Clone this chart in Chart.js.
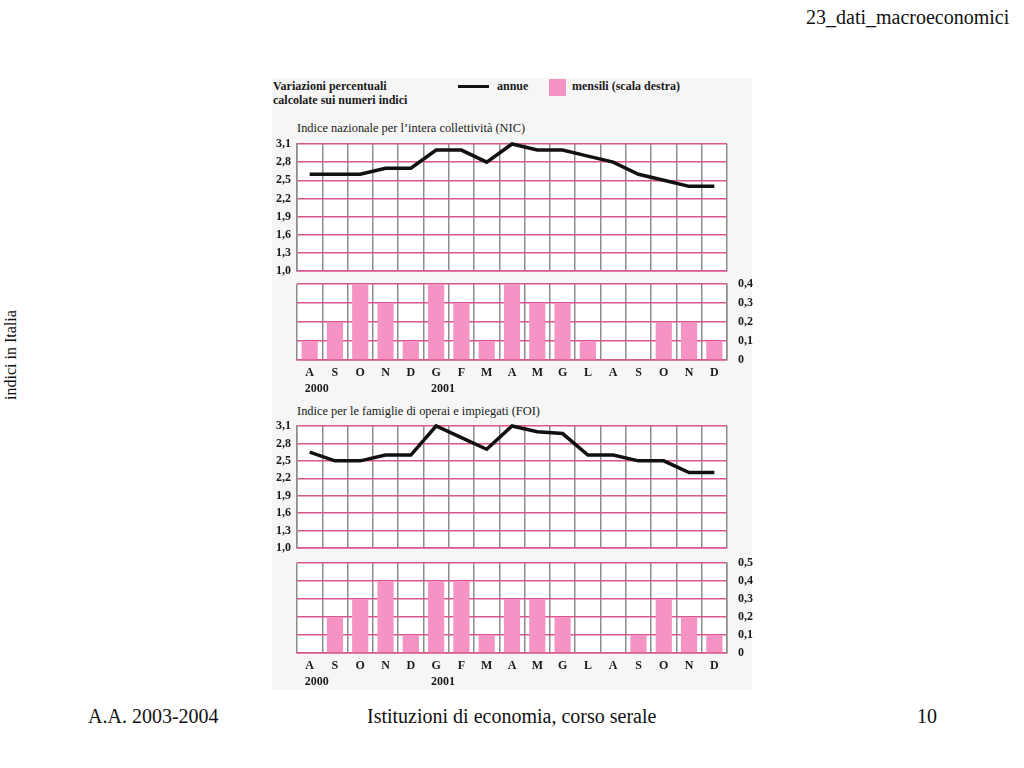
<!DOCTYPE html>
<html>
<head>
<meta charset="utf-8">
<script src="https://cdn.jsdelivr.net/npm/chart.js@4.4.1/dist/chart.umd.min.js"></script>
<style>
  body { margin: 0; background: #fff; width: 1024px; height: 768px; position: relative; overflow: hidden; font-family: "Liberation Serif", serif; color: #111; }
  .abs { position: absolute; white-space: nowrap; }
  #fig { position: absolute; left: 272px; top: 78px; width: 480px; height: 612px; background: #f6f6f6; }
  canvas { position: absolute; }
  .small { font-size: 12px; color: #1a1a1a; }
  .title { font-size: 12.4px; color: #1a1a1a; }
  .bold { font-weight: bold; }
</style>
</head>
<body>
<div class="abs" style="left:806px; top:6px; font-size:20px;">23_dati_macroeconomici</div>
<div class="abs" style="left:-37px; top:346px; font-size:16px; transform: rotate(-90deg); transform-origin: center; width:95px; text-align:center;">indici in Italia</div>
<div class="abs" style="left:88px; top:705px; font-size:20px;">A.A. 2003-2004</div>
<div class="abs" style="left:367px; top:705px; font-size:20px;">Istituzioni di economia, corso serale</div>
<div class="abs" style="left:917px; top:705px; font-size:20px;">10</div>

<div id="fig"></div>
<div class="abs small bold" style="left:273px; top:79px; line-height:14px;">Variazioni percentuali<br>calcolate sui numeri indici</div>
<div class="abs" style="left:458px; top:85px; width:31px; height:3px; background:#111;"></div>
<div class="abs small bold" style="left:497px; top:79px;">annue</div>
<div class="abs" style="left:549px; top:79px; width:17px; height:17px; background:#f594c4;"></div>
<div class="abs small bold" style="left:572px; top:79px;">mensili (scala destra)</div>
<div class="abs title" style="left:297px; top:121px;">Indice nazionale per l’intera collettività (NIC)</div>
<div class="abs title" style="left:297px; top:404px;">Indice per le famiglie di operai e impiegati (FOI)</div>

<canvas id="nicLine" width="500" height="145" style="left:262px; top:136px;"></canvas>
<canvas id="nicBar" width="500" height="120" style="left:262px; top:278px;"></canvas>
<canvas id="foiLine" width="500" height="140" style="left:262px; top:418px;"></canvas>
<canvas id="foiBar" width="500" height="134" style="left:262px; top:556px;"></canvas>

<script>
// months Aug 2000 - Dec 2001
const months = ['A', 'S', 'O', 'N', 'D', 'G', 'F', 'M', 'A', 'M', 'G', 'L', 'A', 'S', 'O', 'N', 'D'];
const years = ['2000', '', '', '', '', '2001', '', '', '', '', '', '', '', '', '', '', ''];

// annual changes (left scale)
const nicAnnual = [2.6, 2.6, 2.6, 2.7, 2.7, 3.0, 3.0, 2.8, 3.1, 3.0, 3.0, 2.9, 2.8, 2.6, 2.5, 2.4, 2.4];
const foiAnnual = [2.65, 2.5, 2.5, 2.6, 2.6, 3.1, 2.9, 2.7, 3.1, 3.0, 2.97, 2.6, 2.6, 2.5, 2.5, 2.3, 2.3];

// monthly changes (right scale)
const nicMonthly = [0.1, 0.2, 0.4, 0.3, 0.1, 0.4, 0.3, 0.1, 0.4, 0.3, 0.3, 0.1, 0, 0, 0.2, 0.2, 0.1];
const foiMonthly = [0, 0.2, 0.3, 0.4, 0.1, 0.4, 0.4, 0.1, 0.3, 0.3, 0.2, 0, 0, 0.1, 0.3, 0.2, 0.1];

// tick labels
const annualTicks = [1.0, 1.3, 1.6, 1.9, 2.2, 2.5, 2.8, 3.1];
const nicMonthTicks = [0, 0.1, 0.2, 0.3, 0.4];
const foiMonthTicks = [0, 0.1, 0.2, 0.3, 0.4, 0.5];

const PINK_GRID = '#d9558d';
const GREY_GRID = '#8c8c8c';
const BAR_PINK = '#f594c4';
const tickFont = { family: 'Liberation Serif', size: 12, weight: 'bold' };

function fmt(v) {
  return v === 0 ? '0' : v.toFixed(1).replace('.', ',');
}

// keep the chart area exactly where layout.padding puts it
function noPad(s) {
  s.paddingTop = 0; s.paddingBottom = 0; s.paddingLeft = 0; s.paddingRight = 0;
}

const whiteArea = {
  id: 'whiteArea',
  beforeDraw(chart) {
    const a = chart.chartArea, ctx = chart.ctx;
    ctx.save();
    ctx.fillStyle = '#fff';
    ctx.fillRect(a.left, a.top, a.right - a.left, a.bottom - a.top);
    ctx.restore();
  }
};

const yearLabels = {
  id: 'yearLabels',
  afterDraw(chart) {
    const ctx = chart.ctx, x = chart.scales.x;
    ctx.save();
    ctx.font = 'bold 12px "Liberation Serif"';
    ctx.fillStyle = '#1a1a1a';
    ctx.textAlign = 'left';
    ctx.textBaseline = 'middle';
    years.forEach((y, i) => {
      if (y) ctx.fillText(y, x.getPixelForValue(i) - 5, chart.chartArea.bottom + 29);
    });
    ctx.restore();
  }
};

// pad: [top, bottom] in px between canvas edge and chart area
function lineConfig(values, pad) {
  return {
    type: 'line',
    data: {
      labels: months,
      datasets: [{
        data: values,
        borderColor: '#111',
        borderWidth: 3.5,
        pointRadius: 0,
        tension: 0,
        clip: false,
      }]
    },
    options: {
      responsive: false,
      animation: false,
      layout: { padding: { top: pad[0], right: 35, bottom: pad[1], left: 0 } },
      plugins: { legend: { display: false }, tooltip: { enabled: false } },
      scales: {
        x: {
          offset: true,
          grid: { offset: true, color: GREY_GRID, lineWidth: 1.5, drawTicks: false },
          border: { color: PINK_GRID, width: 1.5 },
          ticks: { display: false },
          afterFit: (s) => { s.height = 0; noPad(s); }
        },
        y: {
          min: 1.0,
          max: 3.1,
          afterBuildTicks: (s) => { s.ticks = annualTicks.map(v => ({ value: v })); },
          grid: { color: PINK_GRID, lineWidth: 1.5, drawTicks: false },
          border: { color: GREY_GRID, width: 1.5 },
          ticks: { font: tickFont, color: '#1a1a1a', padding: 6, autoSkip: false, callback: (v) => fmt(v) },
          afterFit: (s) => { s.width = 35; noPad(s); }
        }
      }
    },
    plugins: [whiteArea]
  };
}

function barConfig(values, ticks, max, pad) {
  return {
    type: 'bar',
    data: {
      labels: months,
      datasets: [{
        data: values,
        backgroundColor: BAR_PINK,
        borderWidth: 0,
        categoryPercentage: 0.8,
        barPercentage: 0.8,
      }]
    },
    options: {
      responsive: false,
      animation: false,
      layout: { padding: { top: pad[0], right: 0, bottom: 0, left: 35 } },
      plugins: { legend: { display: false }, tooltip: { enabled: false } },
      scales: {
        x: {
          grid: { offset: true, color: GREY_GRID, lineWidth: 1.5, drawTicks: false },
          border: { color: PINK_GRID, width: 1.5 },
          ticks: { font: tickFont, color: '#1a1a1a', padding: 6, maxRotation: 0, autoSkip: false },
          afterFit: (s) => { s.height = pad[1]; noPad(s); }
        },
        y: {
          position: 'right',
          min: 0,
          max: max,
          afterBuildTicks: (s) => { s.ticks = ticks.map(v => ({ value: v })); },
          grid: { color: PINK_GRID, lineWidth: 1.5, drawTicks: false },
          border: { color: GREY_GRID, width: 1.5 },
          ticks: { font: tickFont, color: '#1a1a1a', padding: 11, autoSkip: false, callback: (v) => fmt(v) },
          afterFit: (s) => { s.width = 35; noPad(s); }
        }
      }
    },
    plugins: [whiteArea, yearLabels]
  };
}

// chart areas: NIC line 144-271, NIC bars 284-360, FOI line 426-548, FOI bars 563-653
new Chart(document.getElementById('nicLine'), lineConfig(nicAnnual, [8, 10]));
new Chart(document.getElementById('nicBar'), barConfig(nicMonthly, nicMonthTicks, 0.4, [6, 38]));
new Chart(document.getElementById('foiLine'), lineConfig(foiAnnual, [8, 10]));
new Chart(document.getElementById('foiBar'), barConfig(foiMonthly, foiMonthTicks, 0.5, [7, 37]));
</script>
</body>
</html>
